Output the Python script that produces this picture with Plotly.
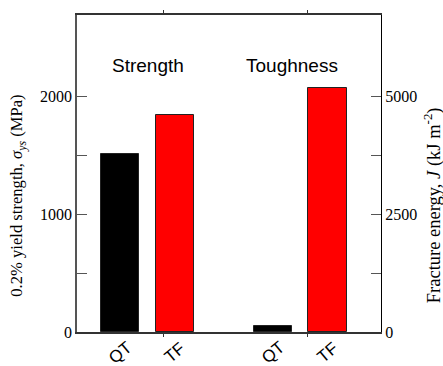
import plotly.graph_objects as go

# Data
groups = ["Strength", "Toughness"]
conditions = ["QT", "TF"]
strength_mpa = [1510, 1840]        # 0.2% yield strength (MPa)
toughness_kj = [130, 5170]         # fracture energy J (kJ m^-2)
bar_colors = ["#000000", "#ff0000"]

y_ticks = [0, 500, 1000, 1500, 2000]
y_ticklabels = ["0", "", "1000", "", "2000"]
y2_ticks = [0, 1250, 2500, 3750, 5000]
y2_ticklabels = ["0", "", "2500", "", "5000"]

# Layout helpers
x_strength = [1.0, 2.0]
x_toughness = [3.8, 4.8]
bar_width = 0.70
y_max = 2687
y2_max = y_max * 2.5

serif = "Liberation Serif, Times New Roman, serif"
sans = "Liberation Sans, Arial, sans-serif"

fig = go.Figure()

fig.add_trace(go.Bar(
    x=x_strength, y=strength_mpa, width=bar_width,
    marker=dict(color=bar_colors, line=dict(color="#222222", width=1)),
    yaxis="y", showlegend=False, hoverinfo="skip",
))
fig.add_trace(go.Bar(
    x=x_toughness, y=toughness_kj, width=bar_width,
    marker=dict(color=bar_colors, line=dict(color="#222222", width=1)),
    yaxis="y2", showlegend=False, hoverinfo="skip",
))

annotations = []
# category labels under each bar
for xs in (x_strength, x_toughness):
    for xv, name in zip(xs, conditions):
        annotations.append(dict(
            x=xv, y=0, xref="x", yref="paper", text=name, showarrow=False,
            textangle=-40, font=dict(family=sans, size=17, color="black"),
            xanchor="center", yanchor="middle", yshift=-20,
        ))
# group headings
for xv, name in zip([1.5, 4.15], groups):
    annotations.append(dict(
        x=xv, y=2228, xref="x", yref="y", text=name, showarrow=False,
        font=dict(family=sans, size=19, color="black"),
        xanchor="center", yanchor="middle", yshift=4,
    ))
# axis titles
annotations.append(dict(
    x=0, y=0.43, xref="paper", yref="paper", xshift=-59,
    text="0.2% yield strength, <i>σ</i><sub><i>ys</i></sub> (MPa)",
    textangle=-90, showarrow=False,
    font=dict(family=serif, size=16.6, color="black"),
    xanchor="center", yanchor="middle",
))
annotations.append(dict(
    x=1, y=0.40, xref="paper", yref="paper", xshift=51,
    text="Fracture energy, <i>J</i> (kJ m<sup>-2</sup>)",
    textangle=-90, showarrow=False,
    font=dict(family=serif, size=18.5, color="black"),
    xanchor="center", yanchor="middle",
))

fig.update_layout(
    width=443, height=366,
    margin=dict(l=77, r=62, t=10, b=34),
    paper_bgcolor="white", plot_bgcolor="white",
    bargap=0,
    xaxis=dict(
        range=[0.205, 5.78], showgrid=False, zeroline=False,
        showline=True, linecolor="#333333", linewidth=1.5, mirror="ticks",
        tickvals=[1.8, 4.43], ticktext=["", ""], ticks="outside",
        ticklen=3, tickcolor="#333333",
    ),
    yaxis=dict(
        range=[0, y_max], showgrid=False, zeroline=False,
        showline=True, linecolor="#555555", linewidth=1.5,
        tickvals=y_ticks, ticktext=y_ticklabels,
        ticks="inside", ticklen=10, tickcolor="#555555", tickwidth=1,
        tickfont=dict(family=serif, size=16, color="black"),
    ),
    yaxis2=dict(
        range=[0, y2_max], overlaying="y", side="right",
        showgrid=False, zeroline=False,
        showline=True, linecolor="black", linewidth=1,
        tickvals=y2_ticks, ticktext=y2_ticklabels,
        ticks="inside", ticklen=10, tickcolor="#555555", tickwidth=1,
        tickfont=dict(family=serif, size=16, color="black"),
    ),
    annotations=annotations,
)

fig.write_html("out.html")
